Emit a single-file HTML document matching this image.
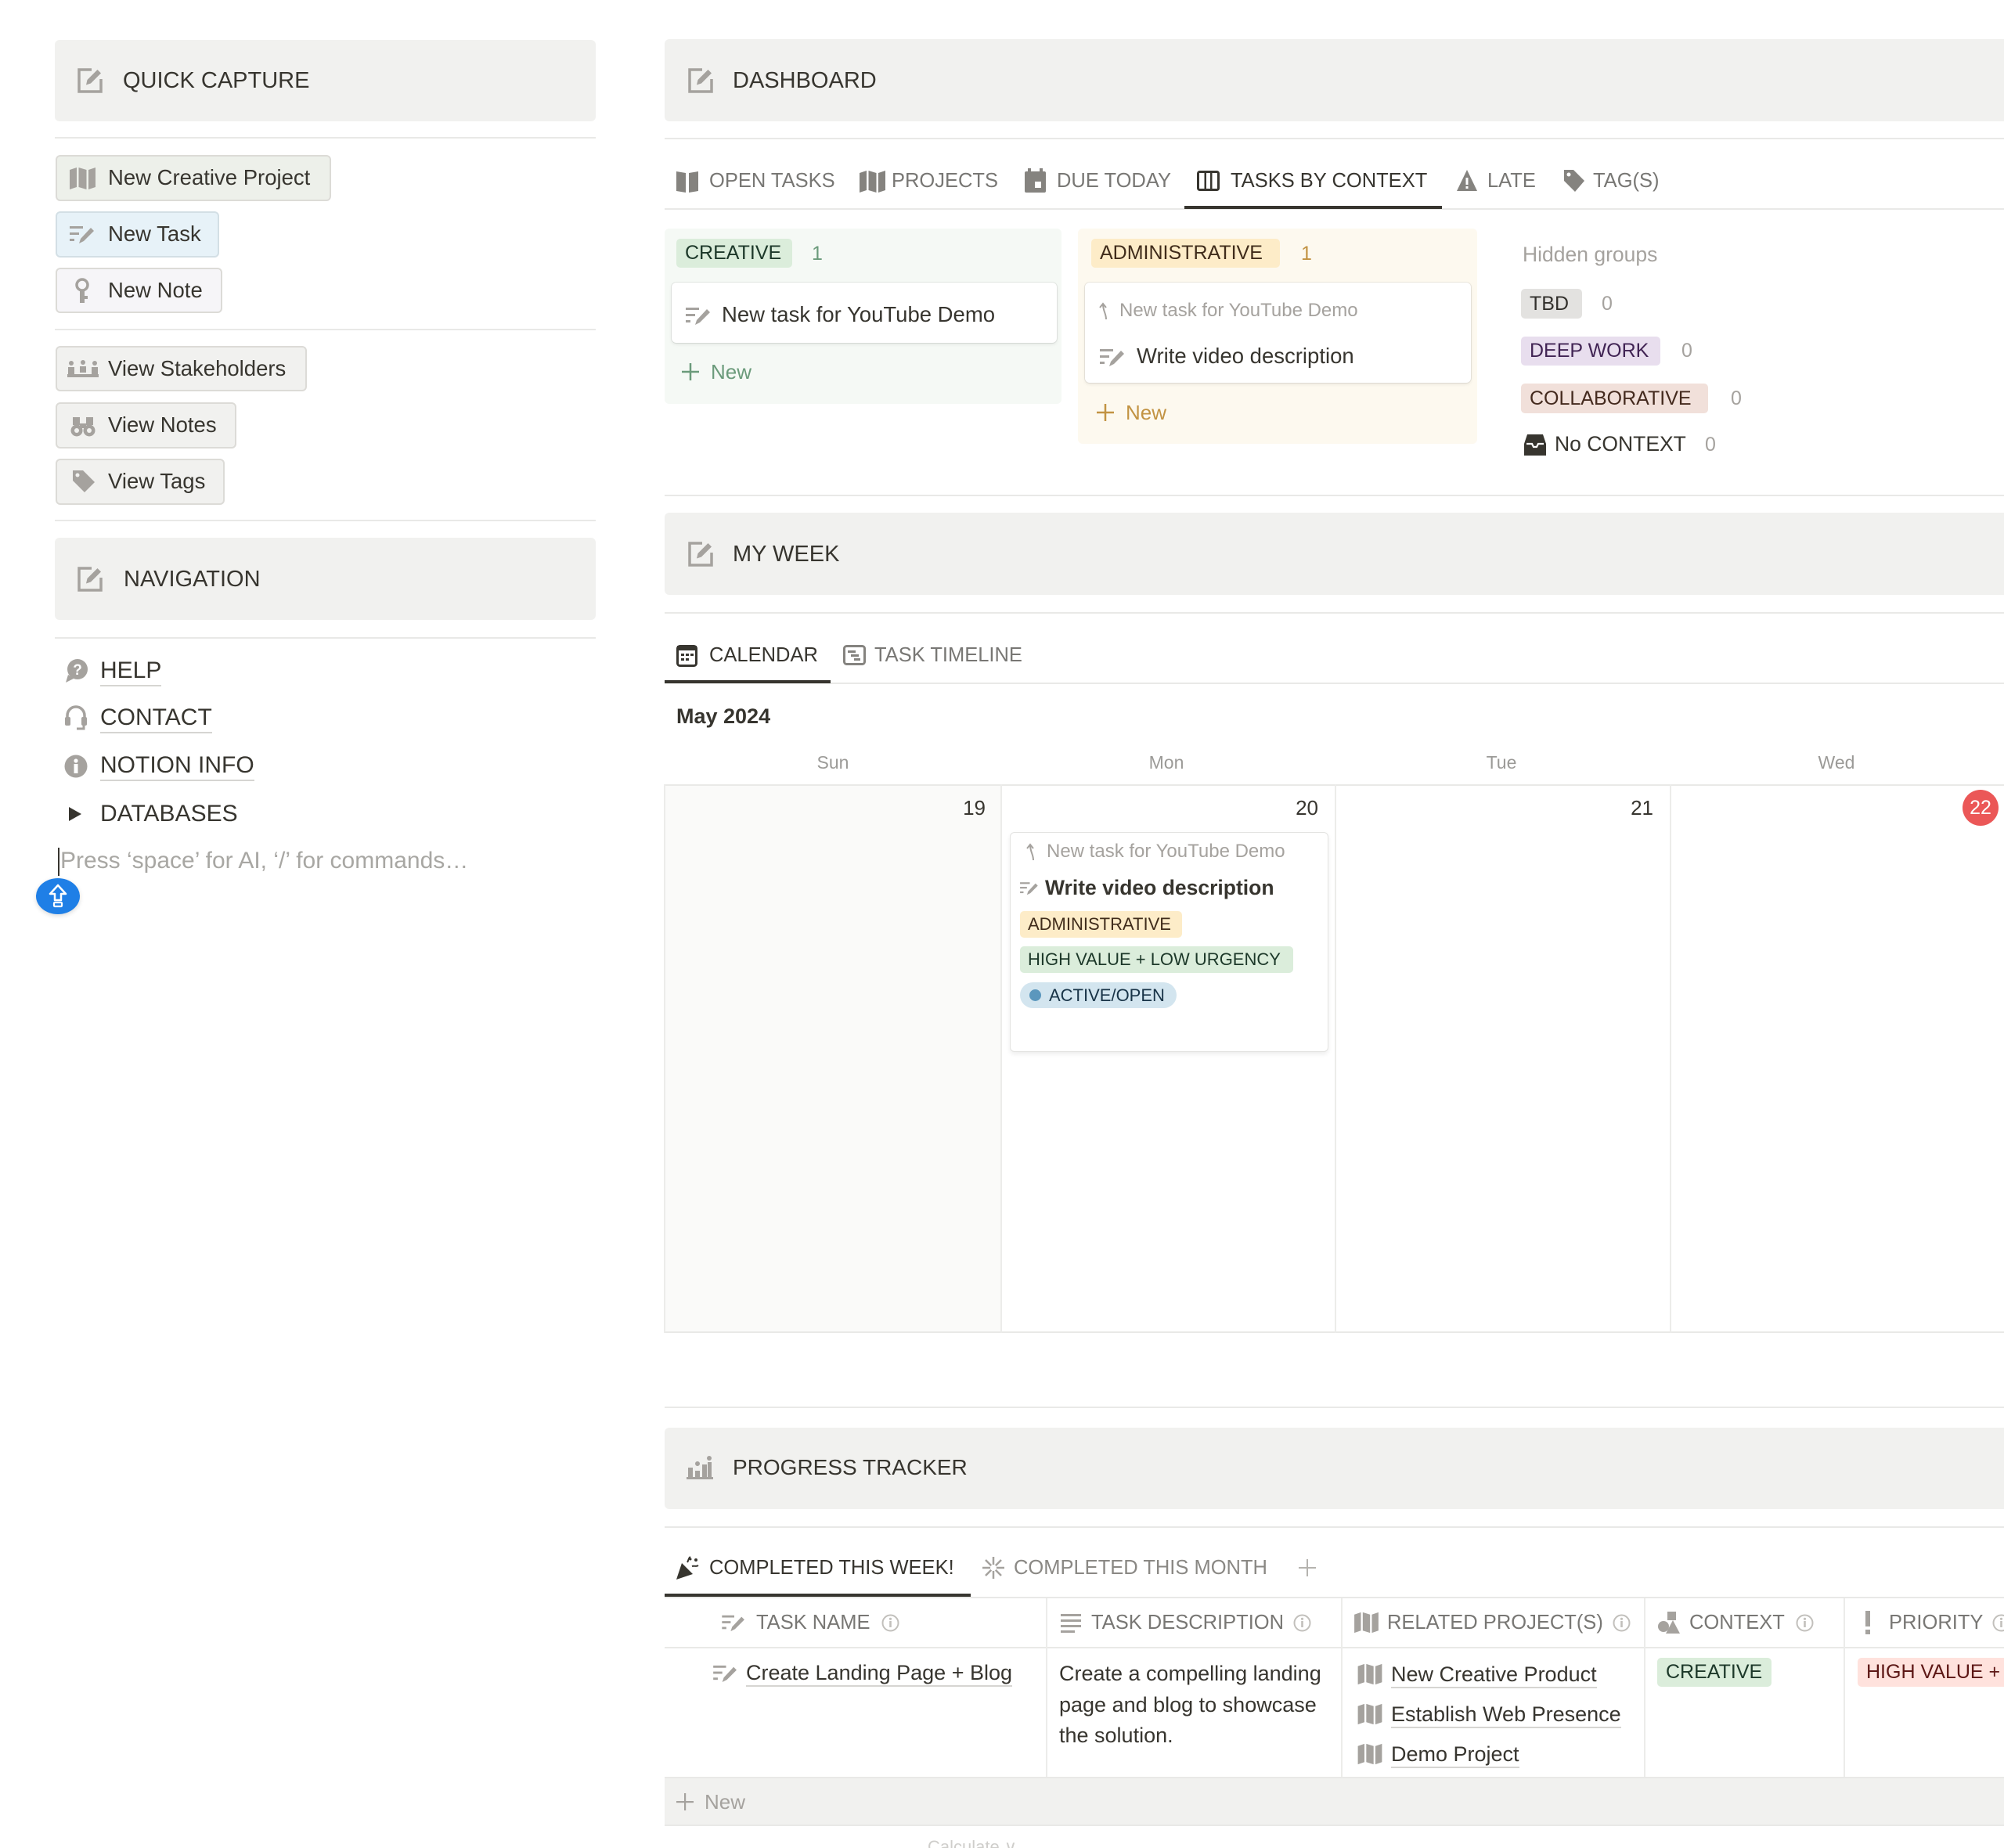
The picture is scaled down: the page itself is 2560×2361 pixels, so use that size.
<!DOCTYPE html>
<html><head><meta charset="utf-8"><style>
*{margin:0;padding:0;box-sizing:border-box}
html,body{width:2560px;height:2361px;overflow:hidden;background:#fff}
body{position:relative;font-family:"Liberation Sans",Arial,sans-serif;color:#37352f}
.a{position:absolute}
.t{position:absolute;white-space:nowrap;height:40px;line-height:40px}
.co{position:absolute;background:#f1f1ef;border-radius:6px}
.cr{border-radius:6px 0 0 6px}
.sep{position:absolute;height:2px;background:#e9e9e7}
.btn{position:absolute;border:2px solid #dcdbd7;border-radius:6px}
.tag{position:absolute;height:37px;line-height:37px;border-radius:5px;padding-left:11px;font-size:25px;white-space:nowrap;overflow:hidden}
.g{color:#a5a29e}
.tb{font-size:25.5px;color:#787774}
.ul{border-bottom:2px solid #d6d5d2;padding-bottom:2px}
.vl{position:absolute;width:2px;background:#ececea}
</style></head><body>

<!-- ================= LEFT COLUMN ================= -->
<div class="co" style="left:70px;top:51px;width:691px;height:104px"></div>
<svg class="a" style="left:98px;top:86px" width="34" height="34" viewBox="0 0 34 34"><path d="M19 3H3v28h28V15" fill="none" stroke="#a5a29e" stroke-width="3.5"/><path d="M12 22.5l1.5-6.5L26.5 3l4.5 4.5L18 20.5z" fill="#a5a29e"/></svg>
<div class="t" style="left:157px;top:83px;font-size:29px">QUICK CAPTURE</div>
<div class="sep" style="left:70px;top:175px;width:691px"></div>

<div class="btn" style="left:71px;top:198px;width:352px;height:59px;background:#edf0ea"></div>
<svg class="a" style="left:89px;top:213px" width="33" height="30" viewBox="0 0 33 30"><path fill="#a5a29e" d="M0 4l9-3v25l-9 3zM11.5 1l10 3v25l-10-3zM24 4l9-3v25l-9 3z"/></svg>
<div class="t" style="left:138px;top:207px;font-size:27.5px">New Creative Project</div>

<div class="btn" style="left:71px;top:270px;width:209px;height:59px;background:#e7f2f8;border-color:#d3dfe5"></div>
<svg class="a" style="left:89px;top:286px" width="34" height="26" viewBox="0 0 34 26"><g fill="#a5a29e"><rect x="0" y="3" width="17" height="3"/><rect y="11" width="12" height="3"/><rect y="19" width="6" height="3"/><path d="M12 25l2-6L27 5l4 4-13 13z"/></g></svg>
<div class="t" style="left:138px;top:279px;font-size:27.5px">New Task</div>

<div class="btn" style="left:71px;top:342px;width:213px;height:58px;background:#f6f5f8"></div>
<svg class="a" style="left:92px;top:354px" width="26" height="34" viewBox="0 0 26 34"><circle cx="13" cy="10" r="7" fill="none" stroke="#a5a29e" stroke-width="3.5"/><path fill="#a5a29e" d="M10 16h6v8h4v4h-4v5h-6z"/></svg>
<div class="t" style="left:138px;top:351px;font-size:27.5px">New Note</div>

<div class="sep" style="left:70px;top:420px;width:691px"></div>

<div class="btn" style="left:71px;top:442px;width:321px;height:58px;background:#f1f1ef"></div>
<svg class="a" style="left:86px;top:458px" width="40" height="26" viewBox="0 0 40 26"><g fill="#a5a29e"><circle cx="5" cy="6" r="3"/><rect x="1" y="11" width="8" height="9"/><circle cx="20" cy="5" r="3"/><rect x="16" y="10" width="8" height="8"/><circle cx="35" cy="6" r="3"/><rect x="31" y="11" width="8" height="9"/><rect x="0" y="20" width="40" height="4"/></g></svg>
<div class="t" style="left:138px;top:451px;font-size:27.5px">View Stakeholders</div>

<div class="btn" style="left:71px;top:514px;width:231px;height:59px;background:#f1f1ef"></div>
<svg class="a" style="left:90px;top:529px" width="32" height="30" viewBox="0 0 32 30"><g fill="#a5a29e"><path d="M3 4h9v10H3zM20 4h9v10h-9z"/><circle cx="8" cy="21" r="7.5"/><circle cx="24" cy="21" r="7.5"/><rect x="12" y="12" width="8" height="6"/></g><circle cx="8" cy="21" r="3" fill="#f1f1ef"/><circle cx="24" cy="21" r="3" fill="#f1f1ef"/></svg>
<div class="t" style="left:138px;top:523px;font-size:27.5px">View Notes</div>

<div class="btn" style="left:71px;top:586px;width:216px;height:59px;background:#f1f1ef"></div>
<svg class="a" style="left:92px;top:600px" width="30" height="30" viewBox="0 0 30 30"><path fill="#a5a29e" d="M1 1h13l15 15-13 13L1 14z"/><circle cx="7" cy="7" r="2.5" fill="#f1f1ef"/></svg>
<div class="t" style="left:138px;top:595px;font-size:27.5px">View Tags</div>

<div class="sep" style="left:70px;top:664px;width:691px"></div>

<div class="co" style="left:70px;top:687px;width:691px;height:105px"></div>
<svg class="a" style="left:98px;top:723px" width="34" height="34" viewBox="0 0 34 34"><path d="M19 3H3v28h28V15" fill="none" stroke="#a5a29e" stroke-width="3.5"/><path d="M12 22.5l1.5-6.5L26.5 3l4.5 4.5L18 20.5z" fill="#a5a29e"/></svg>
<div class="t" style="left:158px;top:720px;font-size:29px">NAVIGATION</div>
<div class="sep" style="left:70px;top:814px;width:691px"></div>

<svg class="a" style="left:82px;top:841px" width="32" height="32" viewBox="0 0 32 32"><circle cx="17" cy="14" r="13" fill="#a5a29e"/><path d="M5 21l-3 10 10-5z" fill="#a5a29e"/><text x="17" y="21" font-size="19" font-weight="bold" text-anchor="middle" fill="#fff" font-family="Liberation Sans">?</text></svg>
<div class="t" style="left:128px;top:842px;height:30px;line-height:30px;font-size:30px"><span class="ul">HELP</span></div>

<svg class="a" style="left:82px;top:900px" width="30" height="34" viewBox="0 0 30 34"><path d="M4 18v-4a11 11 0 0 1 22 0v4" fill="none" stroke="#a5a29e" stroke-width="3.5"/><rect x="1" y="16" width="7" height="11" rx="2" fill="#a5a29e"/><rect x="22" y="16" width="7" height="11" rx="2" fill="#a5a29e"/><path d="M25 27v4h-9" fill="none" stroke="#a5a29e" stroke-width="3"/></svg>
<div class="t" style="left:128px;top:902px;height:30px;line-height:30px;font-size:30px"><span class="ul">CONTACT</span></div>

<svg class="a" style="left:82px;top:963px" width="30" height="32" viewBox="0 0 30 32"><circle cx="15" cy="16" r="14.5" fill="#a5a29e"/><circle cx="15" cy="9" r="2.6" fill="#fff"/><rect x="12.5" y="13" width="5" height="12" fill="#fff"/></svg>
<div class="t" style="left:128px;top:963px;height:30px;line-height:30px;font-size:30px"><span class="ul">NOTION INFO</span></div>

<svg class="a" style="left:87px;top:1031px" width="18" height="18" viewBox="0 0 18 18"><path d="M1 0l16 9-16 9z" fill="#37352f"/></svg>
<div class="t" style="left:128px;top:1025px;height:30px;line-height:30px;font-size:30px">DATABASES</div>

<div class="a" style="left:74px;top:1083px;width:2px;height:36px;background:#37352f"></div>
<div class="t" style="left:77px;top:1085px;height:30px;line-height:30px;font-size:30px;color:#a8a7a3">Press ‘space’ for AI, ‘/’ for commands…</div>

<div class="a" style="left:46px;top:1122px;width:56px;height:46px;border-radius:50%;background:#1f7fe6;box-shadow:0 2px 6px rgba(0,0,0,.15)"></div>
<svg class="a" style="left:62px;top:1129px" width="24" height="32" viewBox="0 0 24 32"><path d="M12 2L2 13h6v8h8v-8h6z" fill="none" stroke="#fff" stroke-width="2.5" stroke-linejoin="round"/><rect x="7" y="24" width="10" height="5" rx="1" fill="none" stroke="#fff" stroke-width="2.2"/></svg>

<!-- ================= DASHBOARD ================= -->
<div class="co cr" style="left:849px;top:50px;width:1711px;height:105px"></div>
<svg class="a" style="left:878px;top:86px" width="34" height="34" viewBox="0 0 34 34"><path d="M19 3H3v28h28V15" fill="none" stroke="#a5a29e" stroke-width="3.5"/><path d="M12 22.5l1.5-6.5L26.5 3l4.5 4.5L18 20.5z" fill="#a5a29e"/></svg>
<div class="t" style="left:936px;top:83px;font-size:29px">DASHBOARD</div>
<div class="sep" style="left:849px;top:176px;width:1711px"></div>

<!-- tabs -->
<svg class="a" style="left:864px;top:217px" width="28" height="30" viewBox="0 0 28 30"><path fill="#85837f" d="M0 2l12 2v25L0 27zM16 4l12-2v25l-12 2z"/></svg>
<div class="t tb" style="left:906px;top:211px">OPEN TASKS</div>
<svg class="a" style="left:1098px;top:217px" width="33" height="30" viewBox="0 0 33 30"><path fill="#85837f" d="M0 4l9-3v25l-9 3zM11.5 1l10 3v25l-10-3zM24 4l9-3v25l-9 3z"/></svg>
<div class="t tb" style="left:1139px;top:211px">PROJECTS</div>
<svg class="a" style="left:1309px;top:215px" width="27" height="31" viewBox="0 0 27 31"><rect x="0" y="4" width="27" height="27" rx="2" fill="#85837f"/><rect x="4" y="0" width="4" height="7" fill="#85837f"/><rect x="19" y="0" width="4" height="7" fill="#85837f"/><rect x="13" y="17" width="8" height="8" fill="#fff"/></svg>
<div class="t tb" style="left:1350px;top:211px">DUE TODAY</div>
<svg class="a" style="left:1529px;top:217px" width="29" height="28" viewBox="0 0 29 28"><rect x="1.5" y="2.5" width="26" height="23" rx="2" fill="none" stroke="#37352f" stroke-width="3"/><rect x="9.5" y="3" width="2.5" height="22" fill="#37352f"/><rect x="17" y="3" width="2.5" height="22" fill="#37352f"/></svg>
<div class="t tb" style="left:1572px;top:211px;color:#37352f">TASKS BY CONTEXT</div>
<svg class="a" style="left:1860px;top:216px" width="28" height="29" viewBox="0 0 28 29"><path d="M14 1L27 28H1z" fill="#85837f"/><rect x="12.5" y="11" width="3" height="9" fill="#fff"/><rect x="12.5" y="22" width="3" height="3" fill="#fff"/></svg>
<div class="t tb" style="left:1900px;top:211px">LATE</div>
<svg class="a" style="left:1997px;top:216px" width="28" height="30" viewBox="0 0 28 30"><path fill="#85837f" d="M1 1h12l14 14-12 14L1 15z"/><circle cx="7" cy="7" r="2.5" fill="#fff"/></svg>
<div class="t tb" style="left:2035px;top:211px">TAG(S)</div>
<div class="sep" style="left:849px;top:266px;width:1711px"></div>
<div class="a" style="left:1513px;top:263px;width:329px;height:4px;background:#37352f"></div>

<!-- board -->
<div class="a" style="left:849px;top:292px;width:507px;height:224px;background:#f5f9f5;border-radius:6px"></div>
<div class="tag" style="left:864px;top:305px;width:148px;background:#dbeddb;color:#1c3829">CREATIVE</div>
<div class="t" style="left:1037px;top:304px;font-size:25px;color:#6b9b7b">1</div>
<div class="a" style="left:858px;top:361px;width:492px;height:77px;background:#fff;border-radius:6px;box-shadow:0 0 0 1px rgba(15,15,15,.07),0 2px 4px rgba(15,15,15,.08)"></div>
<svg class="a" style="left:876px;top:390px" width="34" height="26" viewBox="0 0 34 26"><g fill="#a5a29e"><rect x="0" y="3" width="17" height="3"/><rect y="11" width="12" height="3"/><rect y="19" width="6" height="3"/><path d="M12 25l2-6L27 5l4 4-13 13z"/></g></svg>
<div class="t" style="left:922px;top:382px;font-size:27.5px">New task for YouTube Demo</div>
<svg class="a" style="left:871px;top:464px" width="22" height="22" viewBox="0 0 22 22"><rect x="9.75" y="0" width="2.5" height="22" fill="#6b9b7b"/><rect x="0" y="9.75" width="22" height="2.5" fill="#6b9b7b"/></svg>
<div class="t" style="left:908px;top:455px;font-size:26px;color:#6b9b7b">New</div>

<div class="a" style="left:1377px;top:292px;width:510px;height:275px;background:#fdf9ef;border-radius:6px"></div>
<div class="tag" style="left:1394px;top:305px;width:241px;background:#fdecc8;color:#402c1b">ADMINISTRATIVE</div>
<div class="t" style="left:1662px;top:304px;font-size:25px;color:#c29343">1</div>
<div class="a" style="left:1386px;top:361px;width:493px;height:128px;background:#fff;border-radius:6px;box-shadow:0 0 0 1px rgba(15,15,15,.07),0 2px 4px rgba(15,15,15,.08)"></div>
<svg class="a" style="left:1403px;top:385px" width="20" height="24" viewBox="0 0 20 24"><path d="M10 23C10 15 6 13 6 3M2 8l4-5 4 5" fill="none" stroke="#a5a29e" stroke-width="2"/></svg>
<div class="t" style="left:1430px;top:377px;font-size:24px;color:#a5a29e">New task for YouTube Demo</div>
<svg class="a" style="left:1405px;top:443px" width="34" height="26" viewBox="0 0 34 26"><g fill="#a5a29e"><rect x="0" y="3" width="17" height="3"/><rect y="11" width="12" height="3"/><rect y="19" width="6" height="3"/><path d="M12 25l2-6L27 5l4 4-13 13z"/></g></svg>
<div class="t" style="left:1452px;top:435px;font-size:27.5px">Write video description</div>
<svg class="a" style="left:1401px;top:516px" width="22" height="22" viewBox="0 0 22 22"><rect x="9.75" y="0" width="2.5" height="22" fill="#c29343"/><rect x="0" y="9.75" width="22" height="2.5" fill="#c29343"/></svg>
<div class="t" style="left:1438px;top:507px;font-size:26px;color:#c29343">New</div>

<div class="t" style="left:1945px;top:305px;font-size:26.5px;color:#a5a29e">Hidden groups</div>
<div class="tag" style="left:1943px;top:369px;width:78px;height:38px;line-height:38px;background:#e3e2e0;color:#32302c">TBD</div>
<div class="t" style="left:2046px;top:368px;font-size:25px;color:#a5a29e">0</div>
<div class="tag" style="left:1943px;top:430px;width:178px;background:#e8deee;color:#412454">DEEP WORK</div>
<div class="t" style="left:2148px;top:428px;font-size:25px;color:#a5a29e">0</div>
<div class="tag" style="left:1943px;top:490px;width:239px;height:38px;line-height:38px;background:#f1e0da;color:#442a1e">COLLABORATIVE</div>
<div class="t" style="left:2211px;top:489px;font-size:25px;color:#a5a29e">0</div>
<svg class="a" style="left:1947px;top:553px" width="28" height="30" viewBox="0 0 28 30"><path d="M4 2h20l4 12v15H0V14z" fill="#37352f"/><path d="M3 14h7l2 4h4l2-4h7" fill="none" stroke="#fff" stroke-width="2.2"/></svg>
<div class="t" style="left:1986px;top:547px;font-size:26.5px">No CONTEXT</div>
<div class="t" style="left:2178px;top:548px;font-size:25px;color:#a5a29e">0</div>

<div class="sep" style="left:849px;top:632px;width:1711px"></div>

<!-- ================= MY WEEK ================= -->
<div class="co cr" style="left:849px;top:655px;width:1711px;height:105px"></div>
<svg class="a" style="left:878px;top:691px" width="34" height="34" viewBox="0 0 34 34"><path d="M19 3H3v28h28V15" fill="none" stroke="#a5a29e" stroke-width="3.5"/><path d="M12 22.5l1.5-6.5L26.5 3l4.5 4.5L18 20.5z" fill="#a5a29e"/></svg>
<div class="t" style="left:936px;top:688px;font-size:29px">MY WEEK</div>
<div class="sep" style="left:849px;top:782px;width:1711px"></div>

<svg class="a" style="left:864px;top:823px" width="27" height="29" viewBox="0 0 27 29"><rect x="1.5" y="2.5" width="24" height="25" rx="3" fill="none" stroke="#37352f" stroke-width="3"/><rect x="1" y="2" width="25" height="6" fill="#37352f"/><rect x="6" y="12" width="4" height="3" fill="#37352f"/><rect x="12" y="12" width="4" height="3" fill="#37352f"/><rect x="18" y="12" width="4" height="3" fill="#37352f"/><rect x="6" y="18" width="4" height="3" fill="#37352f"/><rect x="12" y="18" width="4" height="3" fill="#37352f"/></svg>
<div class="t tb" style="left:906px;top:817px;color:#37352f">CALENDAR</div>
<svg class="a" style="left:1077px;top:823px" width="29" height="28" viewBox="0 0 29 28"><rect x="1.5" y="2.5" width="26" height="23" rx="3" fill="none" stroke="#85837f" stroke-width="3"/><rect x="6" y="8" width="10" height="3" fill="#85837f"/><rect x="10" y="13" width="10" height="3" fill="#85837f"/><rect x="14" y="18" width="8" height="3" fill="#85837f"/></svg>
<div class="t tb" style="left:1117px;top:817px">TASK TIMELINE</div>
<div class="sep" style="left:849px;top:872px;width:1711px"></div>
<div class="a" style="left:849px;top:869px;width:212px;height:4px;background:#37352f"></div>

<div class="t" style="left:864px;top:895px;font-size:27px;font-weight:bold">May 2024</div>

<div class="t" style="left:1014px;top:954px;width:100px;text-align:center;font-size:23px;color:#9b9a97">Sun</div>
<div class="t" style="left:1440px;top:954px;width:100px;text-align:center;font-size:23px;color:#9b9a97">Mon</div>
<div class="t" style="left:1868px;top:954px;width:100px;text-align:center;font-size:23px;color:#9b9a97">Tue</div>
<div class="t" style="left:2296px;top:954px;width:100px;text-align:center;font-size:23px;color:#9b9a97">Wed</div>

<div class="a" style="left:849px;top:1004px;width:430px;height:698px;background:#fafaf9"></div>
<div class="sep" style="left:849px;top:1002px;width:1711px"></div>
<div class="sep" style="left:849px;top:1701px;width:1711px"></div>
<div class="vl" style="left:848px;top:1002px;height:701px"></div>
<div class="vl" style="left:1278px;top:1002px;height:701px"></div>
<div class="vl" style="left:1705px;top:1002px;height:701px"></div>
<div class="vl" style="left:2133px;top:1002px;height:701px"></div>

<div class="t" style="left:1159px;top:1012px;width:100px;text-align:right;font-size:26px">19</div>
<div class="t" style="left:1584px;top:1012px;width:100px;text-align:right;font-size:26px">20</div>
<div class="t" style="left:2012px;top:1012px;width:100px;text-align:right;font-size:26px">21</div>
<div class="a" style="left:2507px;top:1009px;width:46px;height:46px;border-radius:50%;background:#eb5757;color:#fff;font-size:25px;line-height:46px;text-align:center">22</div>

<!-- event card -->
<div class="a" style="left:1290px;top:1063px;width:407px;height:281px;background:#fff;border:1px solid #e3e3e1;border-radius:6px;box-shadow:0 3px 6px rgba(15,15,15,.07)"></div>
<svg class="a" style="left:1310px;top:1076px" width="20" height="24" viewBox="0 0 20 24"><path d="M10 23C10 15 6 13 6 3M2 8l4-5 4 5" fill="none" stroke="#a5a29e" stroke-width="2"/></svg>
<div class="t" style="left:1337px;top:1068px;font-size:24px;color:#a5a29e">New task for YouTube Demo</div>
<svg class="a" style="left:1303px;top:1125px" width="25" height="19" viewBox="0 0 34 26"><g fill="#a5a29e"><rect x="0" y="3" width="17" height="3"/><rect y="11" width="12" height="3"/><rect y="19" width="6" height="3"/><path d="M12 25l2-6L27 5l4 4-13 13z"/></g></svg>
<div class="t" style="left:1335px;top:1114px;font-size:26.5px;font-weight:bold">Write video description</div>
<div class="tag" style="left:1303px;top:1164px;width:207px;height:34px;line-height:34px;font-size:22px;padding-left:10px;background:#fdecc8;color:#402c1b">ADMINISTRATIVE</div>
<div class="tag" style="left:1303px;top:1209px;width:349px;height:34px;line-height:34px;font-size:22px;padding-left:10px;background:#dbeddb;color:#1c3829">HIGH VALUE + LOW URGENCY</div>
<div class="tag" style="left:1303px;top:1255px;width:200px;height:33px;line-height:33px;font-size:22px;padding-left:37px;border-radius:17px;background:#d3e5ef;color:#183347">ACTIVE/OPEN</div>
<div class="a" style="left:1315px;top:1264px;width:15px;height:15px;border-radius:50%;background:#5b97bd"></div>

<div class="sep" style="left:849px;top:1797px;width:1711px"></div>

<!-- ================= PROGRESS TRACKER ================= -->
<div class="co cr" style="left:849px;top:1824px;width:1711px;height:104px"></div>
<svg class="a" style="left:877px;top:1859px" width="34" height="32" viewBox="0 0 34 32"><g fill="#a5a29e"><rect x="0" y="28" width="34" height="3"/><rect x="2" y="16" width="6" height="12"/><rect x="11" y="20" width="6" height="8"/><rect x="20" y="12" width="6" height="16"/><circle cx="14" cy="11" r="3"/><circle cx="29" cy="4" r="3"/><rect x="27" y="9" width="5" height="19"/></g></svg>
<div class="t" style="left:936px;top:1855px;font-size:28px">PROGRESS TRACKER</div>
<div class="sep" style="left:849px;top:1950px;width:1711px"></div>

<svg class="a" style="left:864px;top:1988px" width="30" height="30" viewBox="0 0 30 30"><path d="M0 30l7-21 14 14z" fill="#37352f"/><path d="M14 8c2-3 1-5 4-7M20 13c3-1 5 1 8-1" fill="none" stroke="#37352f" stroke-width="2"/><circle cx="25" cy="5" r="2" fill="#37352f"/><circle cx="18" cy="4" r="1.5" fill="#37352f"/></svg>
<div class="t tb" style="left:906px;top:1983px;color:#37352f">COMPLETED THIS WEEK!</div>
<svg class="a" style="left:1254px;top:1988px" width="30" height="30" viewBox="0 0 30 30"><g stroke="#a5a29e" stroke-width="2.5"><path d="M15 1v28M1 15h28M5 5l20 20M25 5L5 25"/></g><circle cx="15" cy="15" r="4" fill="#fff"/></svg>
<div class="t tb" style="left:1295px;top:1983px;color:#8a8884">COMPLETED THIS MONTH</div>
<svg class="a" style="left:1659px;top:1992px" width="22" height="22" viewBox="0 0 22 22"><rect x="10" y="0" width="2" height="22" fill="#b5b3af"/><rect x="0" y="10" width="22" height="2" fill="#b5b3af"/></svg>
<div class="sep" style="left:849px;top:2040px;width:1711px"></div>
<div class="a" style="left:849px;top:2036px;width:391px;height:4px;background:#37352f"></div>

<!-- table -->
<div class="sep" style="left:849px;top:2104px;width:1711px"></div>
<div class="vl" style="left:1336px;top:2042px;height:229px"></div>
<div class="vl" style="left:1713px;top:2042px;height:229px"></div>
<div class="vl" style="left:2100px;top:2042px;height:229px"></div>
<div class="vl" style="left:2355px;top:2042px;height:229px"></div>

<svg class="a" style="left:922px;top:2061px" width="32" height="24" viewBox="0 0 34 26"><g fill="#a5a29e"><rect x="0" y="3" width="17" height="3"/><rect y="11" width="12" height="3"/><rect y="19" width="6" height="3"/><path d="M12 25l2-6L27 5l4 4-13 13z"/></g></svg>
<div class="t tb" style="left:966px;top:2053px">TASK NAME</div>
<svg class="a" style="left:1126px;top:2062px" width="23" height="23" viewBox="0 0 23 23"><circle cx="11.5" cy="11.5" r="10" fill="none" stroke="#c2c0bc" stroke-width="2"/><rect x="10.2" y="9" width="2.6" height="8" fill="#c2c0bc"/><circle cx="11.5" cy="6.3" r="1.6" fill="#c2c0bc"/></svg>

<svg class="a" style="left:1355px;top:2061px" width="26" height="25" viewBox="0 0 26 25"><g fill="#a5a29e"><rect y="1" width="26" height="3"/><rect y="8" width="26" height="3"/><rect y="15" width="26" height="3"/><rect y="22" width="18" height="3"/></g></svg>
<div class="t tb" style="left:1394px;top:2053px">TASK DESCRIPTION</div>
<svg class="a" style="left:1652px;top:2062px" width="23" height="23" viewBox="0 0 23 23"><circle cx="11.5" cy="11.5" r="10" fill="none" stroke="#c2c0bc" stroke-width="2"/><rect x="10.2" y="9" width="2.6" height="8" fill="#c2c0bc"/><circle cx="11.5" cy="6.3" r="1.6" fill="#c2c0bc"/></svg>

<svg class="a" style="left:1730px;top:2059px" width="31" height="28" viewBox="0 0 33 30"><path fill="#a5a29e" d="M0 4l9-3v25l-9 3zM11.5 1l10 3v25l-10-3zM24 4l9-3v25l-9 3z"/></svg>
<div class="t tb" style="left:1772px;top:2053px">RELATED PROJECT(S)</div>
<svg class="a" style="left:2060px;top:2062px" width="23" height="23" viewBox="0 0 23 23"><circle cx="11.5" cy="11.5" r="10" fill="none" stroke="#c2c0bc" stroke-width="2"/><rect x="10.2" y="9" width="2.6" height="8" fill="#c2c0bc"/><circle cx="11.5" cy="6.3" r="1.6" fill="#c2c0bc"/></svg>

<svg class="a" style="left:2117px;top:2058px" width="30" height="30" viewBox="0 0 30 30"><g fill="#a5a29e"><circle cx="8" cy="20" r="7"/><rect x="13" y="1" width="11" height="11"/><path d="M20 12l9 17H11z"/></g></svg>
<div class="t tb" style="left:2158px;top:2053px">CONTEXT</div>
<svg class="a" style="left:2294px;top:2062px" width="23" height="23" viewBox="0 0 23 23"><circle cx="11.5" cy="11.5" r="10" fill="none" stroke="#c2c0bc" stroke-width="2"/><rect x="10.2" y="9" width="2.6" height="8" fill="#c2c0bc"/><circle cx="11.5" cy="6.3" r="1.6" fill="#c2c0bc"/></svg>

<svg class="a" style="left:2381px;top:2058px" width="10" height="30" viewBox="0 0 10 30"><rect x="2" y="0" width="6" height="20" fill="#a5a29e"/><rect x="2" y="24" width="6" height="6" fill="#a5a29e"/></svg>
<div class="t tb" style="left:2413px;top:2053px">PRIORITY</div>
<svg class="a" style="left:2545px;top:2062px" width="15" height="23" viewBox="0 0 15 23"><circle cx="11.5" cy="11.5" r="10" fill="none" stroke="#c2c0bc" stroke-width="2"/><rect x="10.2" y="9" width="2.6" height="8" fill="#c2c0bc"/><circle cx="11.5" cy="6.3" r="1.6" fill="#c2c0bc"/></svg>

<!-- row -->
<svg class="a" style="left:911px;top:2125px" width="33" height="25" viewBox="0 0 34 26"><g fill="#a5a29e"><rect x="0" y="3" width="17" height="3"/><rect y="11" width="12" height="3"/><rect y="19" width="6" height="3"/><path d="M12 25l2-6L27 5l4 4-13 13z"/></g></svg>
<div class="t" style="left:953px;top:2117px;font-size:27px"><span class="ul" style="padding-bottom:1px">Create Landing Page + Blog</span></div>

<div class="t" style="left:1353px;top:2118px;font-size:27px">Create a compelling landing</div>
<div class="t" style="left:1353px;top:2158px;font-size:27px">page and blog to showcase</div>
<div class="t" style="left:1353px;top:2197px;font-size:27px">the solution.</div>

<svg class="a" style="left:1734px;top:2125px" width="32" height="28" viewBox="0 0 33 30"><path fill="#a5a29e" d="M0 4l9-3v25l-9 3zM11.5 1l10 3v25l-10-3zM24 4l9-3v25l-9 3z"/></svg>
<div class="t" style="left:1777px;top:2119px;font-size:27px"><span class="ul" style="padding-bottom:1px">New Creative Product</span></div>
<svg class="a" style="left:1734px;top:2176px" width="32" height="28" viewBox="0 0 33 30"><path fill="#a5a29e" d="M0 4l9-3v25l-9 3zM11.5 1l10 3v25l-10-3zM24 4l9-3v25l-9 3z"/></svg>
<div class="t" style="left:1777px;top:2170px;font-size:27px"><span class="ul" style="padding-bottom:1px">Establish Web Presence</span></div>
<svg class="a" style="left:1734px;top:2227px" width="32" height="28" viewBox="0 0 33 30"><path fill="#a5a29e" d="M0 4l9-3v25l-9 3zM11.5 1l10 3v25l-10-3zM24 4l9-3v25l-9 3z"/></svg>
<div class="t" style="left:1777px;top:2221px;font-size:27px"><span class="ul" style="padding-bottom:1px">Demo Project</span></div>

<div class="tag" style="left:2117px;top:2118px;width:146px;background:#dbeddb;color:#1c3829">CREATIVE</div>
<div class="tag" style="left:2373px;top:2118px;width:187px;border-radius:5px 0 0 5px;background:#ffe2dd;color:#5d1715">HIGH VALUE + LOW URGENCY</div>

<div class="sep" style="left:849px;top:2270px;width:1711px"></div>
<div class="a" style="left:849px;top:2272px;width:1711px;height:59px;background:#f1f1ef"></div>
<div class="sep" style="left:849px;top:2331px;width:1711px"></div>
<svg class="a" style="left:864px;top:2291px" width="22" height="22" viewBox="0 0 22 22"><rect x="10" y="0" width="2.2" height="22" fill="#a5a29e"/><rect x="0" y="10" width="22" height="2.2" fill="#a5a29e"/></svg>
<div class="t" style="left:900px;top:2282px;font-size:26px;color:#a5a29e">New</div>

<div class="t" style="left:1185px;top:2340px;height:21px;overflow:hidden;font-size:22px;color:#cfcecb">Calculate ∨</div>

</body></html>
